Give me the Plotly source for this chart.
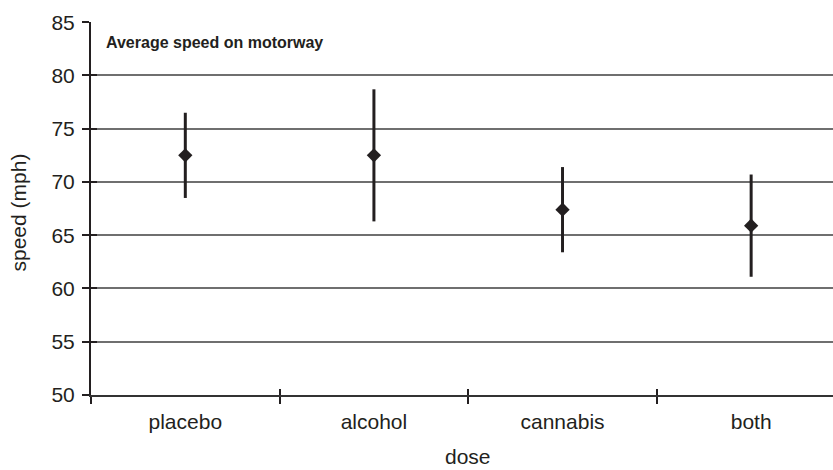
import plotly.graph_objects as go

# Mean motorway speed per dose group, with error half-widths (mph)
categories = ["placebo", "alcohol", "cannabis", "both"]
mean_speed = [72.5, 72.5, 67.4, 65.9]
error_mph = [4.0, 6.2, 4.0, 4.8]
y_ticks = [50, 55, 60, 65, 70, 75, 80, 85]

INK = "#231f20"
FONT = "Liberation Sans, Arial, sans-serif"

W, H = 833, 470
ML, MR, MT, MB = 91, 0, 22, 75

# category axis runs past the right edge of the page
x_range = [-0.5, 3.434]
y_range = [50, 85.02]

fig = go.Figure()

fig.add_trace(go.Scatter(
    x=categories,
    y=mean_speed,
    mode="markers",
    marker=dict(symbol="diamond", size=11, color=INK, line=dict(width=0)),
    error_y=dict(type="data", array=error_mph, visible=True,
                 color=INK, thickness=3, width=0),
    showlegend=False,
    hoverinfo="skip",
))

# empty trace so the overlay axes (inner tick marks) get drawn
fig.add_trace(go.Scatter(x=[], y=[], xaxis="x2", yaxis="y2",
                         showlegend=False, hoverinfo="skip"))

boundaries = [i - 0.5 for i in range(len(categories))]

fig.update_layout(
    width=W, height=H,
    margin=dict(l=ML, r=MR, t=MT, b=MB, pad=0),
    paper_bgcolor="white",
    plot_bgcolor="white",
    font=dict(family=FONT, size=21, color=INK),
    xaxis=dict(
        type="category",
        categoryorder="array",
        categoryarray=categories,
        range=x_range,
        tickson="boundaries",
        ticks="outside",
        ticklen=7,
        tickwidth=1.5,
        tickcolor=INK,
        showline=True,
        linecolor="#333333",
        linewidth=2,
        showgrid=False,
        zeroline=False,
        ticklabelstandoff=7,
        tickfont=dict(size=21, color=INK),
    ),
    yaxis=dict(
        range=y_range,
        tickvals=y_ticks,
        ticks="outside",
        ticklen=7,
        tickwidth=1.5,
        tickcolor=INK,
        showline=True,
        linecolor=INK,
        linewidth=2,
        showgrid=True,
        gridcolor="#6f6f6f",
        gridwidth=1.5,
        zeroline=False,
        ticklabelstandoff=3,
        tickfont=dict(size=21, color=INK),
    ),
    xaxis2=dict(
        overlaying="x",
        anchor="y",
        range=x_range,
        tickvals=boundaries,
        ticks="inside",
        ticklen=6,
        tickwidth=1.5,
        tickcolor=INK,
        showticklabels=False,
        showgrid=False,
        showline=False,
        zeroline=False,
    ),
    yaxis2=dict(
        overlaying="y",
        anchor="x",
        range=y_range,
        tickvals=y_ticks,
        ticks="inside",
        ticklen=6,
        tickwidth=1.5,
        tickcolor=INK,
        showticklabels=False,
        showgrid=False,
        showline=False,
        zeroline=False,
    ),
    annotations=[
        dict(text="<b>Average speed on motorway</b>",
             xref="paper", yref="paper", x=0.0175, y=0.944,
             xanchor="left", yanchor="middle", showarrow=False,
             font=dict(size=16, color=INK)),
        dict(text="dose",
             xref="paper", yref="paper", x=0.508, y=-0.165,
             xanchor="center", yanchor="middle", showarrow=False,
             font=dict(size=21, color=INK)),
        dict(text="speed (mph)",
             xref="paper", yref="paper", x=-0.098, y=0.49,
             xanchor="center", yanchor="middle", showarrow=False,
             textangle=-90,
             font=dict(size=21, color=INK)),
    ],
)

fig.write_html("out.html")
